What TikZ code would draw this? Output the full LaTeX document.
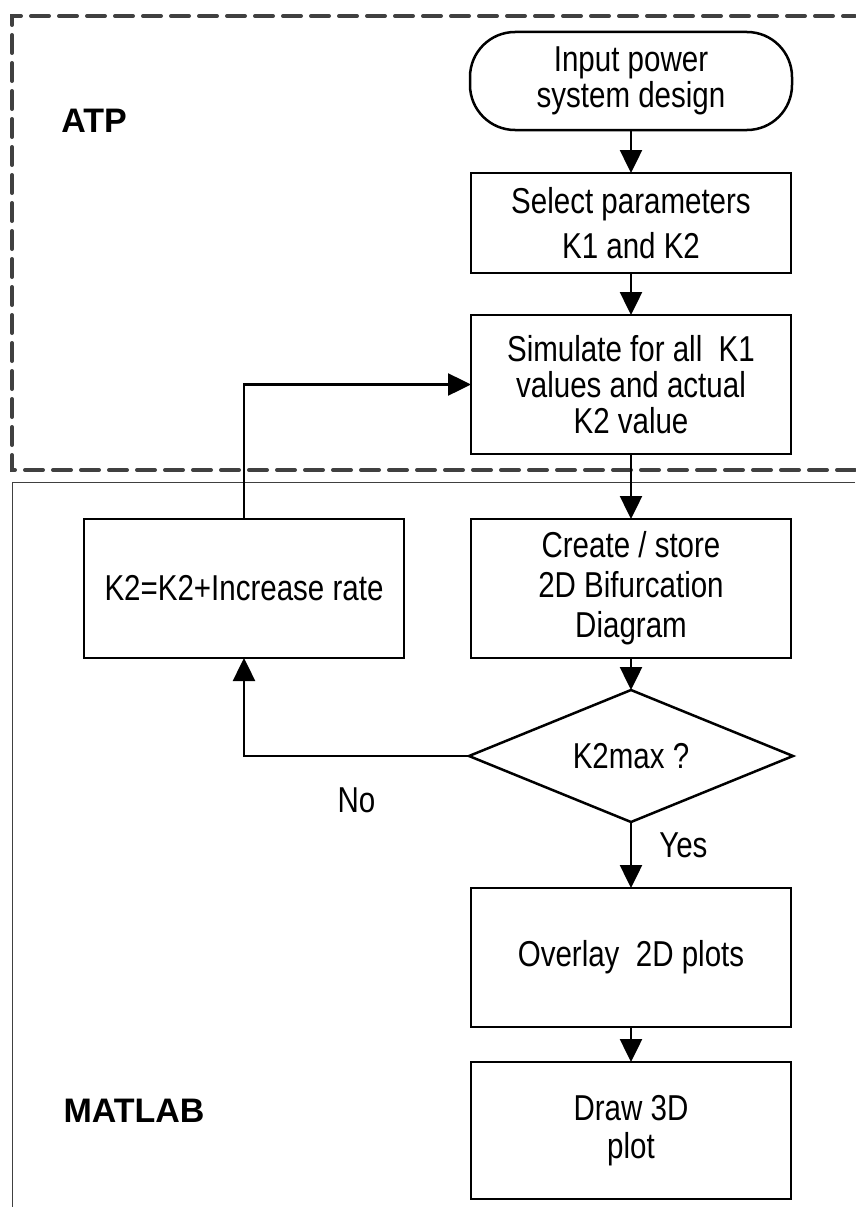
\documentclass[tikz,border=0pt]{standalone}
\usepackage{fontspec}
\setmainfont{Liberation Sans}
\newfontfamily\flowfont{Liberation Sans}[FakeStretch=0.82]
\usetikzlibrary{positioning,shapes.geometric,arrows.meta}
\definecolor{framegray}{HTML}{404040}

\begin{document}
\begin{tikzpicture}[
x=1pt,y=-1pt,
proc/.style={
  draw,
  line width=2.5pt,
  outer sep=0pt,
  minimum width=320pt,
  minimum height=139pt,
  inner sep=0pt,
  align=center,
  font=\flowfont\fontsize{36}{36}\selectfont
},
term/.style={
  proc,
  rounded corners=45pt,
  minimum width=322pt,
  minimum height=98pt
},
deci/.style={
  proc,
  diamond,
  aspect=2.45,
  minimum width=324pt,
  minimum height=132pt
},
region/.style={
  font=\fontsize{34}{40}\selectfont\bfseries
},
lbl/.style={
  inner sep=0pt,
  font=\flowfont\fontsize{36}{36}\selectfont
},
flow/.style={
  line width=2.5pt,
  -{Triangle[length=23pt,width=22pt]}
},
atpframe/.style={
  draw=framegray,
  line width=4pt,
  line cap=round,
  dash pattern=on 18pt off 10pt
},
matframe/.style={
  draw=framegray,
  line width=1pt
},
node distance=42pt
]
\useasboundingbox (0,0) rectangle (855,1207);

\draw[atpframe] (855,470) -- (12,470) -- (12,16) -- (855,16);
\draw[matframe] (855,482) -- (12,482) -- (12,1207);

\node[region] (atp) at (94,121) {ATP};
\node[region] (matlab) at (134,1111) {MATLAB};

\node[term] (start) at (631,81) 
  {Input power\\[0pt]system design};
\node[proc,minimum height=100pt,below=43pt of start] (select) 
  {Select parameters\\[9pt]K1 and K2};
\node[proc,below=42pt of select] (simulate) 
  {Simulate for all\ \ K1\\values and actual\\K2 value};
\node[proc,below=65pt of simulate] (create) 
  {Create / store\\[4pt]2D Bifurcation\\[4pt]Diagram};
\node[deci,below=32pt of create] (decide) 
  {K2max ?};
\node[proc,below=66pt of decide] (overlay) 
  {Overlay\ \ 2D plots};
\node[proc,minimum height=137pt,below=35pt of overlay] (plot3d) 
  {Draw 3D\\[2pt]plot};
\node[proc,left=67pt of create] (k2) 
  {K2=K2+Increase rate};

\draw[flow] (start) -- (select);
\draw[flow] (select) -- (simulate);
\draw[flow] (simulate) -- (create);
\draw[flow] (create) -- (decide);
\draw[flow] (decide) -- node[lbl,pos=0.35,right=27pt] {Yes} (overlay);
\draw[flow] (overlay) -- (plot3d);
\draw[flow] (decide.west) -| node[lbl,pos=0.25,below=30pt] {No} (k2.south);
\draw[flow] (k2.north) |- (simulate.west);
\end{tikzpicture}
\end{document}
